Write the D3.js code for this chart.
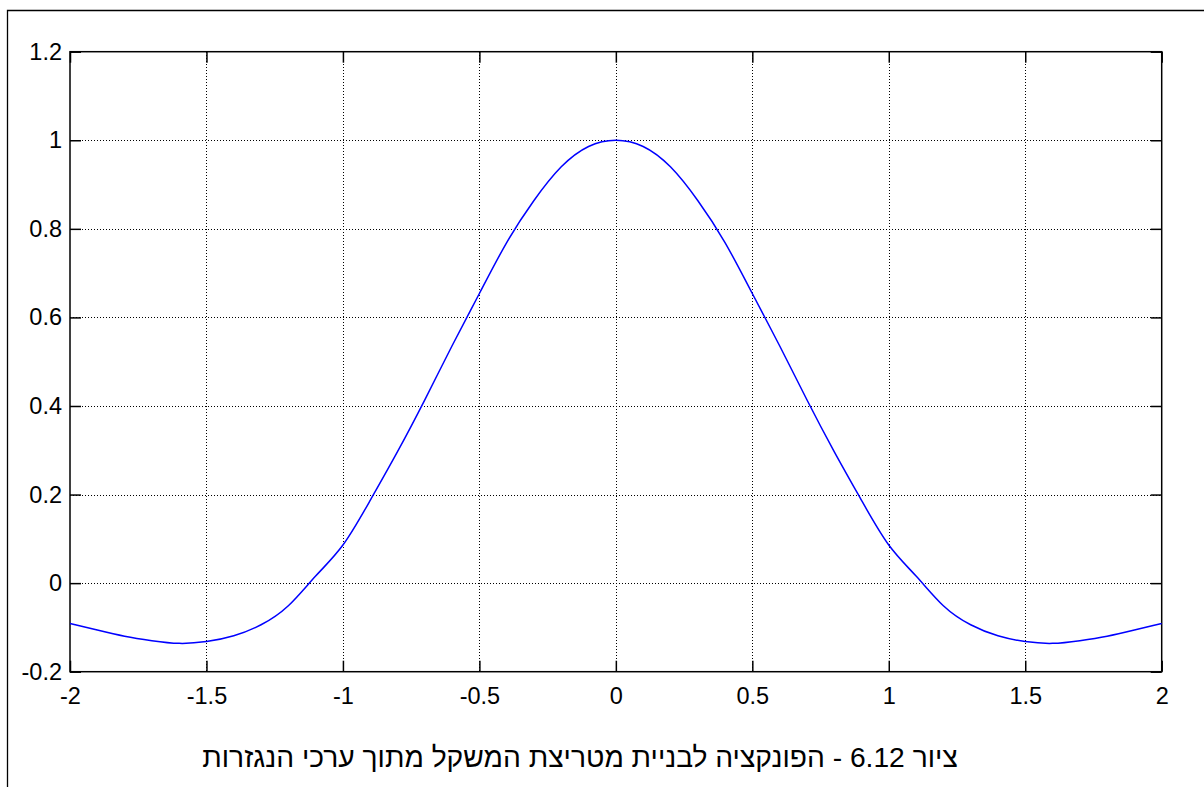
<!DOCTYPE html>
<html>
<head>
<meta charset="utf-8">
<script src="https://cdn.jsdelivr.net/npm/d3@7"></script>
<style>
  html, body { margin: 0; padding: 0; background: #fff; }
  svg { display: block; }
</style>
</head>
<body>
<svg id="chart" width="1204" height="787"></svg>
<script>
// ---- data ----
const xValues = [-2.0, -1.9, -1.8, -1.7, -1.6, -1.5, -1.4, -1.3, -1.2, -1.1,
                 -1.0, -0.9, -0.8, -0.7, -0.6, -0.5, -0.4, -0.3, -0.2, -0.1,
                  0.0,
                  0.1,  0.2,  0.3,  0.4,  0.5,  0.6,  0.7,  0.8,  0.9,  1.0,
                  1.1,  1.2,  1.3,  1.4,  1.5,  1.6,  1.7,  1.8,  1.9,  2.0];
const yValues = [-0.091, -0.106, -0.120, -0.130, -0.136, -0.132, -0.119, -0.094, -0.051, 0.016,
                  0.086,  0.187,  0.297,  0.414,  0.536,  0.654,  0.769,  0.864,  0.940, 0.986,
                  1.000,
                  0.986,  0.940,  0.864,  0.769,  0.654,  0.536,  0.414,  0.297,  0.187, 0.086,
                  0.016, -0.051, -0.094, -0.119, -0.132, -0.136, -0.130, -0.120, -0.106, -0.091];
const xTickValues = [-2, -1.5, -1, -0.5, 0, 0.5, 1, 1.5, 2];
const xTickLabels = ["-2", "-1.5", "-1", "-0.5", "0", "0.5", "1", "1.5", "2"];
const yTickValues = [-0.2, 0, 0.2, 0.4, 0.6, 0.8, 1, 1.2];
const yTickLabels = ["-0.2", "0", "0.2", "0.4", "0.6", "0.8", "1", "1.2"];
const caption = "ציור 6.12 - הפונקציה לבניית מטריצת המשקל מתוך ערכי הנגזרות";

// ---- layout ----
const svg = d3.select("#chart");
const L = 70, R = 1161.7, T = 51.7, B = 671.7;
const tickFont = "'Liberation Sans', Arial, sans-serif";

// outer frame (extends past right and bottom edges)
svg.append("path")
  .attr("d", "M7.5,787V10.5H1204")
  .attr("fill", "none").attr("stroke", "#000").attr("stroke-width", 1.3);

const x = d3.scaleLinear().domain([-2, 2]).range([L, R]);
const y = d3.scaleLinear().domain([-0.2, 1.2]).range([B, T]);

// grid
const grid = svg.append("g").attr("stroke", "#000").attr("stroke-width", 1)
  .attr("stroke-dasharray", "1,2").attr("shape-rendering", "crispEdges");
grid.selectAll("line.v").data(xTickValues.slice(1, -1)).join("line")
  .attr("x1", d => Math.round(x(d)) + 0.5).attr("x2", d => Math.round(x(d)) + 0.5)
  .attr("y1", T).attr("y2", B);
grid.selectAll("line.h").data(yTickValues.slice(1, -1)).join("line")
  .attr("y1", d => Math.round(y(d)) + 0.5).attr("y2", d => Math.round(y(d)) + 0.5)
  .attr("x1", L).attr("x2", R);

// axes
const fmtX = (d) => xTickLabels[xTickValues.indexOf(d)];
const fmtY = (d) => yTickLabels[yTickValues.indexOf(d)];
function styleAxis(g, showText) {
  g.select(".domain").remove();
  g.selectAll(".tick line").attr("stroke", "#000").attr("stroke-width", 1.5);
  g.selectAll(".tick text").attr("fill", "#000")
    .style("font-family", tickFont).style("font-size", "23.5px");
  if (!showText) g.selectAll(".tick text").remove();
}
svg.append("g").attr("transform", `translate(0,${B})`)
  .call(d3.axisBottom(x).tickValues(xTickValues).tickFormat(fmtX).tickSizeInner(-11).tickSizeOuter(0).tickPadding(16))
  .call(g => styleAxis(g, true));
svg.append("g").attr("transform", `translate(0,${T})`)
  .call(d3.axisTop(x).tickValues(xTickValues).tickSizeInner(-11).tickSizeOuter(0))
  .call(g => styleAxis(g, false));
svg.append("g").attr("transform", `translate(${L},0)`)
  .call(d3.axisLeft(y).tickValues(yTickValues).tickFormat(fmtY).tickSizeInner(-11).tickSizeOuter(0).tickPadding(8))
  .call(g => styleAxis(g, true));
svg.append("g").attr("transform", `translate(${R},0)`)
  .call(d3.axisRight(y).tickValues(yTickValues).tickSizeInner(-11).tickSizeOuter(0))
  .call(g => styleAxis(g, false));

// box
svg.append("rect").attr("x", L).attr("y", T).attr("width", R - L).attr("height", B - T)
  .attr("fill", "none").attr("stroke", "#000").attr("stroke-width", 1.5);

// curve
const pts = xValues.map((v, i) => [v, yValues[i]]);
svg.append("path").datum(pts)
  .attr("fill", "none").attr("stroke", "#0000ff").attr("stroke-width", 1.5)
  .attr("d", d3.line().x(d => x(d[0])).y(d => y(d[1])).curve(d3.curveNatural));

// caption (RTL)
const cap = svg.append("text")
  .attr("x", 580).attr("y", 766.5)
  .attr("text-anchor", "middle")
  .attr("direction", "rtl")
  .style("direction", "rtl").style("unicode-bidi", "embed")
  .style("font-family", "'Liberation Sans', 'DejaVu Sans', sans-serif")
  .style("font-size", "22px").attr("fill", "#000")
  .text(caption);
const w = cap.node().getComputedTextLength();
const targetW = 756;
cap.style("font-size", (22 * targetW / w).toFixed(2) + "px");
</script>
</body>
</html>
